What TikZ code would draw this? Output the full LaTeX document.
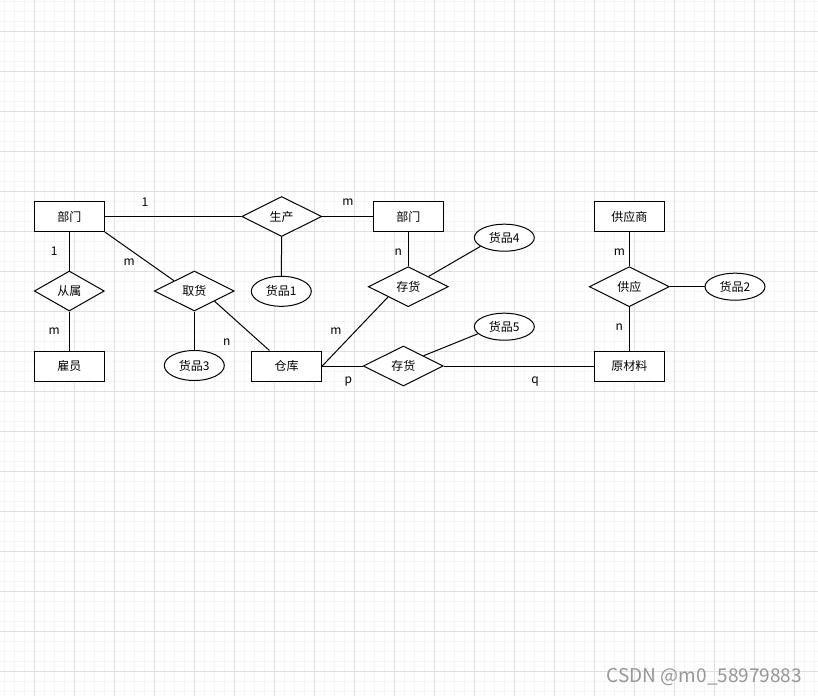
\documentclass[tikz,border=0pt]{standalone}
\usepackage{fontspec}
\setmainfont{Noto Sans CJK SC}
\usetikzlibrary{shapes.geometric}
\definecolor{gridmajor}{RGB}{224,224,224}
\definecolor{gridminor}{RGB}{245,245,245}
\definecolor{wmgray}{RGB}{150,150,150}
\newcommand{\erfont}{\fontsize{12}{14}\selectfont}
\tikzset{
  ent/.style={draw,fill=white,line width=1pt,minimum width=70pt,minimum height=30pt,inner sep=0pt,font=\erfont},
  rel/.style={draw,fill=white,diamond,aspect=2,line width=1pt,minimum width=80pt,minimum height=40pt,inner sep=0pt,font=\erfont},
  attr/.style={draw,fill=white,ellipse,line width=1pt,minimum width=60pt,minimum height=30pt,inner sep=0pt,font=\erfont},
  link/.style={line width=1pt},
  card/.style={font=\erfont,inner sep=0pt},
  wm/.style={font=\fontsize{19}{22}\selectfont,text=wmgray,inner sep=0pt}
}

\begin{document}
\begin{tikzpicture}[x=1pt,y=-1pt]
  \useasboundingbox (0,0) rectangle (818,696);
  \fill[white] (0,0) rectangle (818,696);
  % grid
  \foreach \x in {4.3,14.3,...,814.3} \draw[gridminor,line width=1pt] (\x,0) -- (\x,696);
  \foreach \y in {1.7,11.7,...,691.7} \draw[gridminor,line width=1pt] (0,\y) -- (818,\y);
  \foreach \x in {34.3,74.3,...,794.3} \draw[gridmajor,line width=1pt] (\x,0) -- (\x,696);
  \foreach \y in {31.7,71.7,...,671.7} \draw[gridmajor,line width=1pt] (0,\y) -- (818,\y);

  % entities
  \node[ent] (dept1) at (69.3,216.5) {部门};
  \node[ent] (staff) at (69.3,366.3) {雇员};
  \node[ent] (store) at (286.7,366) {仓库};
  \node[ent] (dept2) at (408.3,216.5) {部门};
  \node[ent] (supplier) at (629.3,216.5) {供应商};
  \node[ent] (material) at (629.3,366) {原材料};

  % relations
  \node[rel,minimum width=70pt] (belong) at (69.3,291) {从属};
  \node[rel] (make) at (281.7,216.5) {生产};
  \node[rel] (fetch) at (194.3,291) {取货};
  \node[rel] (stockA) at (408.3,286.7) {存货};
  \node[rel] (stockB) at (403.3,366) {存货};
  \node[rel] (supply) at (629.3,286.7) {供应};

  % attributes
  \node[attr] (goods1) at (281.3,291.3) {货品1};
  \node[attr] (goods3) at (194.3,365.5) {货品3};
  \node[attr,minimum height=27pt] (goods4) at (504.3,237.7) {货品4};
  \node[attr,minimum height=27pt] (goods5) at (504.3,326.7) {货品5};
  \node[attr,minimum height=27pt] (goods2) at (735,286.7) {货品2};

  % links
  \draw[link] (dept1) -- (make);
  \draw[link] (make) -- (dept2);
  \draw[link] (make) -- (goods1);
  \draw[link] (dept1) -- (belong);
  \draw[link] (belong) -- (staff);
  \draw[link] (dept1.south east) -- (fetch.north west);
  \draw[link] (fetch) -- (goods3);
  \draw[link] (fetch.south east) -- (store);
  \draw[link] (store.east) -- (stockA.south west);
  \draw[link] (store.east) -- (stockB.west);
  \draw[link] (stockB) -- (material);
  \draw[link] (dept2) -- (stockA);
  \draw[link] (stockA.north east) -- (goods4.200);
  \draw[link] (stockB.north east) -- (goods5.195);
  \draw[link] (supplier) -- (supply);
  \draw[link] (supply) -- (material);
  \draw[link] (supply) -- (goods2);

  % cardinalities
  \node[card] (c1) at (145,202) {1};
  \node[card] (c2) at (348,202) {m};
  \node[card] (c3) at (54.3,251) {1};
  \node[card] (c4) at (129.3,262) {m};
  \node[card] (c5) at (54.3,331) {m};
  \node[card] (c6) at (226.7,342) {n};
  \node[card] (c7) at (336,331) {m};
  \node[card] (c8) at (348.3,382) {p};
  \node[card] (c9) at (398.3,252) {n};
  \node[card] (c10) at (535,382) {q};
  \node[card] (c11) at (619.3,252) {m};
  \node[card] (c12) at (619.3,327) {n};

  \node[wm,anchor=west] (mark) at (606.7,676.7) {CSDN @m0\_58979883};
\end{tikzpicture}
\end{document}
